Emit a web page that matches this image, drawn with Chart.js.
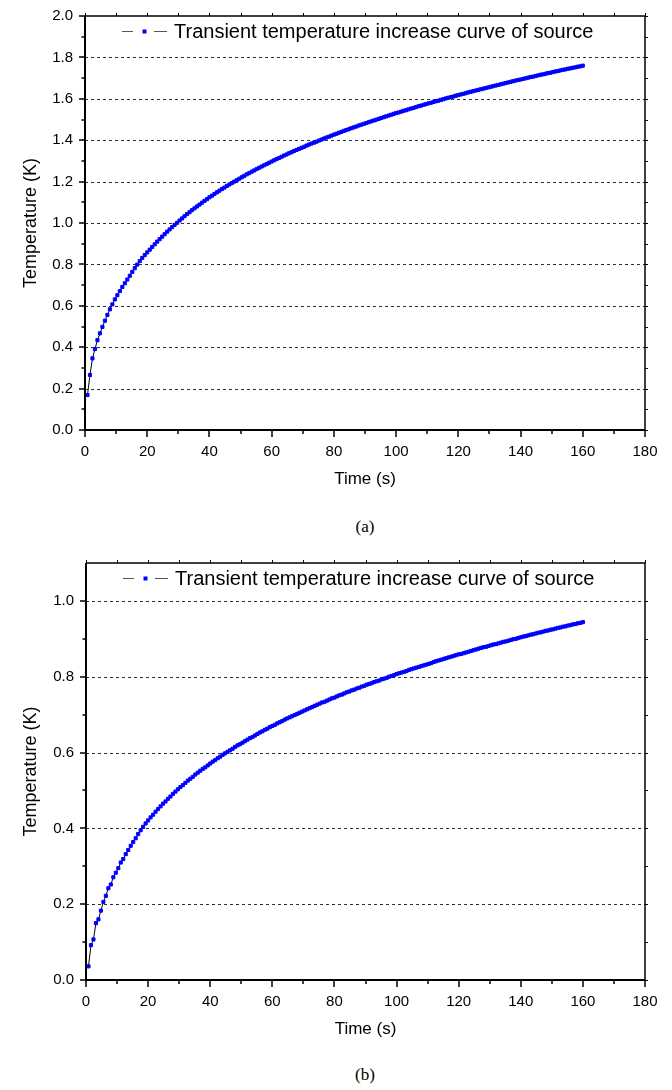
<!DOCTYPE html>
<html>
<head>
<meta charset="utf-8">
<script src="https://cdn.jsdelivr.net/npm/chart.js@4.4.0/dist/chart.umd.min.js"></script>
<style>
  html, body { margin: 0; padding: 0; background: #fff; }
  #page { position: relative; width: 672px; height: 1090px; overflow: hidden; background: #fff; }
  #page canvas { position: absolute; left: 0; }
  .cap { position: absolute; left: 315px; width: 100px; text-align: center;
         font-family: 'Liberation Serif', 'Times New Roman', serif; font-size: 17px;
         line-height: 20px; color: #000; }
</style>
</head>
<body>
<div id="page">
  <canvas id="chartA" width="672" height="500" style="top:0px"></canvas>
  <div class="cap" style="top:517px">(a)</div>
  <canvas id="chartB" width="672" height="510" style="top:540px"></canvas>
  <div class="cap" style="top:1065px">(b)</div>
</div>
<script>
// Sampling times (s)
const time = [
  0.8,1.6,2.4,3.2,4,4.8,5.6,6.4,7.2,8,8.8,9.6,10.4,11.2,12,12.8,13.6,14.4,15.2,16,
  16.8,17.6,18.4,19.2,20,20.8,21.6,22.4,23.2,24,24.8,25.6,26.4,27.2,28,28.8,29.6,30.4,31.2,32,
  32.8,33.6,34.4,35.2,36,36.8,37.6,38.4,39.2,40,40.8,41.6,42.4,43.2,44,44.8,45.6,46.4,47.2,48,
  48.8,49.6,50.4,51.2,52,52.8,53.6,54.4,55.2,56,56.8,57.6,58.4,59.2,60,60.8,61.6,62.4,63.2,64,
  64.8,65.6,66.4,67.2,68,68.8,69.6,70.4,71.2,72,72.8,73.6,74.4,75.2,76,76.8,77.6,78.4,79.2,80,
  80.8,81.6,82.4,83.2,84,84.8,85.6,86.4,87.2,88,88.8,89.6,90.4,91.2,92,92.8,93.6,94.4,95.2,96,
  96.8,97.6,98.4,99.2,100,100.8,101.6,102.4,103.2,104,104.8,105.6,106.4,107.2,108,108.8,109.6,110.4,111.2,112,
  112.8,113.6,114.4,115.2,116,116.8,117.6,118.4,119.2,120,120.8,121.6,122.4,123.2,124,124.8,125.6,126.4,127.2,128,
  128.8,129.6,130.4,131.2,132,132.8,133.6,134.4,135.2,136,136.8,137.6,138.4,139.2,140,140.8,141.6,142.4,143.2,144,
  144.8,145.6,146.4,147.2,148,148.8,149.6,150.4,151.2,152,152.8,153.6,154.4,155.2,156,156.8,157.6,158.4,159.2,160
];

// Temperature rise of the source, case (a) (K)
const tempA = [
  0.169,0.266,0.346,0.391,0.434,0.467,0.498,0.528,0.556,0.583,0.607,0.631,0.651,0.671,0.691,0.709,0.727,0.745,0.764,0.782,
  0.799,0.816,0.831,0.845,0.858,0.871,0.884,0.897,0.910,0.922,0.934,0.946,0.958,0.969,0.980,0.991,1.001,1.012,1.022,1.033,
  1.043,1.052,1.062,1.071,1.080,1.089,1.098,1.107,1.115,1.124,1.132,1.140,1.148,1.156,1.164,1.171,1.179,1.186,1.193,1.200,
  1.207,1.214,1.221,1.228,1.235,1.241,1.248,1.254,1.261,1.267,1.273,1.279,1.285,1.291,1.297,1.303,1.309,1.314,1.320,1.326,
  1.331,1.337,1.342,1.348,1.353,1.358,1.363,1.368,1.374,1.379,1.384,1.388,1.393,1.398,1.403,1.408,1.413,1.417,1.422,1.427,
  1.431,1.436,1.440,1.445,1.449,1.453,1.458,1.462,1.466,1.471,1.475,1.479,1.483,1.487,1.491,1.495,1.499,1.503,1.507,1.511,
  1.515,1.519,1.523,1.527,1.531,1.534,1.538,1.542,1.545,1.549,1.553,1.556,1.560,1.564,1.567,1.571,1.574,1.578,1.581,1.585,
  1.588,1.591,1.595,1.598,1.602,1.605,1.608,1.611,1.615,1.618,1.621,1.624,1.627,1.631,1.634,1.637,1.640,1.643,1.646,1.649,
  1.652,1.655,1.658,1.661,1.664,1.667,1.670,1.673,1.676,1.679,1.682,1.685,1.688,1.691,1.693,1.696,1.699,1.702,1.705,1.707,
  1.710,1.713,1.716,1.718,1.721,1.724,1.726,1.729,1.732,1.734,1.737,1.740,1.742,1.745,1.747,1.750,1.752,1.755,1.757,1.760
];

// Temperature rise of the source, case (b) (K)
const tempB = [
  0.036,0.092,0.107,0.150,0.160,0.183,0.206,0.222,0.242,0.252,0.271,0.283,0.295,0.310,0.319,0.332,0.343,0.354,0.364,0.374,
  0.385,0.395,0.404,0.413,0.421,0.429,0.436,0.444,0.451,0.458,0.465,0.471,0.478,0.484,0.491,0.497,0.503,0.509,0.514,0.520,
  0.526,0.531,0.536,0.542,0.547,0.552,0.557,0.561,0.566,0.571,0.576,0.580,0.585,0.589,0.594,0.598,0.602,0.606,0.610,0.615,
  0.619,0.622,0.626,0.630,0.634,0.638,0.641,0.645,0.649,0.653,0.656,0.660,0.663,0.667,0.670,0.673,0.677,0.680,0.683,0.687,
  0.690,0.693,0.696,0.699,0.702,0.705,0.708,0.711,0.714,0.717,0.720,0.723,0.726,0.729,0.732,0.734,0.737,0.740,0.743,0.745,
  0.748,0.751,0.753,0.756,0.759,0.761,0.764,0.766,0.769,0.771,0.774,0.776,0.779,0.781,0.783,0.786,0.788,0.790,0.793,0.795,
  0.797,0.800,0.802,0.804,0.807,0.809,0.811,0.813,0.815,0.818,0.820,0.822,0.824,0.826,0.828,0.830,0.832,0.834,0.836,0.839,
  0.841,0.843,0.845,0.847,0.849,0.851,0.853,0.855,0.857,0.859,0.860,0.862,0.864,0.866,0.868,0.870,0.872,0.874,0.876,0.878,
  0.879,0.881,0.883,0.885,0.886,0.888,0.890,0.892,0.893,0.895,0.897,0.899,0.900,0.902,0.904,0.906,0.907,0.909,0.911,0.912,
  0.914,0.916,0.917,0.919,0.921,0.922,0.924,0.925,0.927,0.929,0.930,0.932,0.933,0.935,0.936,0.938,0.939,0.941,0.942,0.944
];

// Axis ticks
const xTicks  = [0, 20, 40, 60, 80, 100, 120, 140, 160, 180];
const yTicksA = [0, 0.2, 0.4, 0.6, 0.8, 1.0, 1.2, 1.4, 1.6, 1.8, 2.0];
const yTicksB = [0, 0.2, 0.4, 0.6, 0.8, 1.0];

const seriesLabel = 'Transient temperature increase curve of source';
const xTitle = 'Time (s)';
const yTitle = 'Temperature (K)';

const SANS = "'Liberation Sans', Arial, sans-serif";

function midpoints(ticks, max) {
  const out = [];
  for (let i = 0; i < ticks.length - 1; i++) out.push((ticks[i] + ticks[i + 1]) / 2);
  const step = ticks[1] - ticks[0];
  const extra = ticks[ticks.length - 1] + step / 2;
  if (extra < max - 1e-9) out.push(extra);
  return out;
}

// Dashed horizontal grid lines, below the data
const gridPlugin = {
  id: 'dashedGrid',
  beforeDatasetsDraw(chart) {
    const { ctx, chartArea: a, scales: { y } } = chart;
    ctx.save();
    ctx.strokeStyle = '#2e2e2e';
    ctx.lineWidth = 1;
    ctx.setLineDash([3, 3]);
    y.ticks.forEach(t => {
      if (t.value <= y.min + 1e-9 || t.value >= y.max - 1e-9) return;
      const py = Math.round(y.getPixelForValue(t.value)) + 0.5;
      ctx.beginPath();
      ctx.moveTo(a.left, py);
      ctx.lineTo(a.right, py);
      ctx.stroke();
    });
    ctx.restore();
  }
};

// Axis frame with major/minor tick marks, above the data
const framePlugin = {
  id: 'axisFrame',
  afterDatasetsDraw(chart) {
    const { ctx, chartArea: a, scales: { x, y } } = chart;
    const xMaj = x.ticks.map(t => t.value);
    const yMaj = y.ticks.map(t => t.value);
    const xMin = midpoints(xMaj, x.max);
    const yMin = midpoints(yMaj, y.max);
    ctx.save();
    ctx.strokeStyle = '#000';
    ctx.setLineDash([]);
    // top and right border
    ctx.lineWidth = 1.5;
    ctx.beginPath();
    ctx.moveTo(a.left, a.top); ctx.lineTo(a.right, a.top); ctx.lineTo(a.right, a.bottom);
    ctx.stroke();
    // mirrored small ticks
    ctx.lineWidth = 1;
    [...xMaj, ...xMin].forEach(v => {
      const px = Math.round(x.getPixelForValue(v)) + 0.5;
      ctx.beginPath(); ctx.moveTo(px, a.top); ctx.lineTo(px, a.top - 3); ctx.stroke();
    });
    [...yMaj, ...yMin].forEach(v => {
      const py = Math.round(y.getPixelForValue(v)) + 0.5;
      ctx.beginPath(); ctx.moveTo(a.right, py); ctx.lineTo(a.right + 3, py); ctx.stroke();
    });
    // bottom and left axis
    ctx.lineWidth = 2;
    ctx.beginPath();
    ctx.moveTo(a.left, a.top); ctx.lineTo(a.left, a.bottom); ctx.lineTo(a.right, a.bottom);
    ctx.stroke();
    ctx.lineWidth = 1.5;
    xMaj.forEach(v => {
      const px = Math.round(x.getPixelForValue(v));
      ctx.beginPath(); ctx.moveTo(px, a.bottom); ctx.lineTo(px, a.bottom + 7); ctx.stroke();
    });
    xMin.forEach(v => {
      const px = Math.round(x.getPixelForValue(v));
      ctx.beginPath(); ctx.moveTo(px, a.bottom); ctx.lineTo(px, a.bottom + 4); ctx.stroke();
    });
    yMaj.forEach(v => {
      const py = Math.round(y.getPixelForValue(v));
      ctx.beginPath(); ctx.moveTo(a.left, py); ctx.lineTo(a.left - 6, py); ctx.stroke();
    });
    yMin.forEach(v => {
      const py = Math.round(y.getPixelForValue(v));
      ctx.beginPath(); ctx.moveTo(a.left, py); ctx.lineTo(a.left - 3.5, py); ctx.stroke();
    });
    ctx.restore();
  }
};

// Legend entry drawn inside the plot area
const insideLegend = {
  id: 'insideLegend',
  afterDraw(chart) {
    const { ctx, chartArea: a } = chart;
    const ds = chart.data.datasets[0];
    const cy = a.top + 15.5;
    const x0 = a.left + 37;
    ctx.save();
    ctx.strokeStyle = '#555';
    ctx.lineWidth = 1;
    ctx.beginPath();
    ctx.moveTo(x0, cy); ctx.lineTo(x0 + 11, cy);
    ctx.moveTo(x0 + 32, cy); ctx.lineTo(x0 + 45, cy);
    ctx.stroke();
    ctx.fillStyle = ds.pointBackgroundColor;
    ctx.fillRect(x0 + 20.5, cy - 2, 4, 4);
    ctx.fillStyle = '#000';
    ctx.font = '20px ' + SANS;
    ctx.textBaseline = 'middle';
    ctx.textAlign = 'left';
    ctx.fillText(ds.label, x0 + 52, cy + 1);
    ctx.restore();
  }
};

function makeChart(id, values, yMax, yTicks, box) {
  const canvas = document.getElementById(id);
  const H = canvas.height;
  const points = time.map((t, i) => ({ x: t, y: values[i] }));
  return new Chart(canvas, {
    type: 'line',
    data: {
      datasets: [{
        label: seriesLabel,
        data: points,
        borderColor: '#000',
        borderWidth: 1,
        pointStyle: 'rect',
        pointRadius: 2.2,
        pointBorderWidth: 1,
        pointBackgroundColor: '#0000ff',
        pointBorderColor: '#0000ff',
        tension: 0,
        fill: false
      }]
    },
    options: {
      responsive: false,
      animation: false,
      devicePixelRatio: 1,
      layout: { padding: { top: box.top, right: 672 - box.right, left: 0, bottom: 0 } },
      plugins: { legend: { display: false }, tooltip: { enabled: false } },
      scales: {
        x: {
          type: 'linear',
          min: 0, max: 180,
          afterBuildTicks: s => { s.ticks = xTicks.map(v => ({ value: v })); },
          afterFit: s => { s.height = H - box.bottom; s.paddingLeft = 0; s.paddingRight = 0; },
          grid: { display: false, drawTicks: false },
          border: { display: false },
          ticks: { color: '#000', font: { family: SANS, size: 15 }, padding: 13, maxRotation: 0,
                   callback: v => String(v) },
          title: { display: true, text: xTitle, color: '#000',
                   font: { family: SANS, size: 17 }, padding: { top: 0, bottom: 10 } }
        },
        y: {
          type: 'linear',
          min: 0, max: yMax,
          afterBuildTicks: s => { s.ticks = yTicks.map(v => ({ value: v })); },
          afterFit: s => { s.width = box.left; s.paddingTop = 0; s.paddingBottom = 0; },
          grid: { display: false, drawTicks: false },
          border: { display: false },
          ticks: { color: '#000', font: { family: SANS, size: 15 }, padding: 12,
                   callback: v => Number(v).toFixed(1) },
          title: { display: true, text: yTitle, color: '#000',
                   font: { family: SANS, size: 18 }, padding: { top: 20, bottom: 0 } }
        }
      }
    },
    plugins: [gridPlugin, framePlugin, insideLegend]
  });
}

makeChart('chartA', tempA, 2.0, yTicksA, { left: 85, right: 645, top: 16, bottom: 430 });
makeChart('chartB', tempB, 1.1, yTicksB, { left: 86, right: 645, top: 23, bottom: 440 });
</script>
</body>
</html>
